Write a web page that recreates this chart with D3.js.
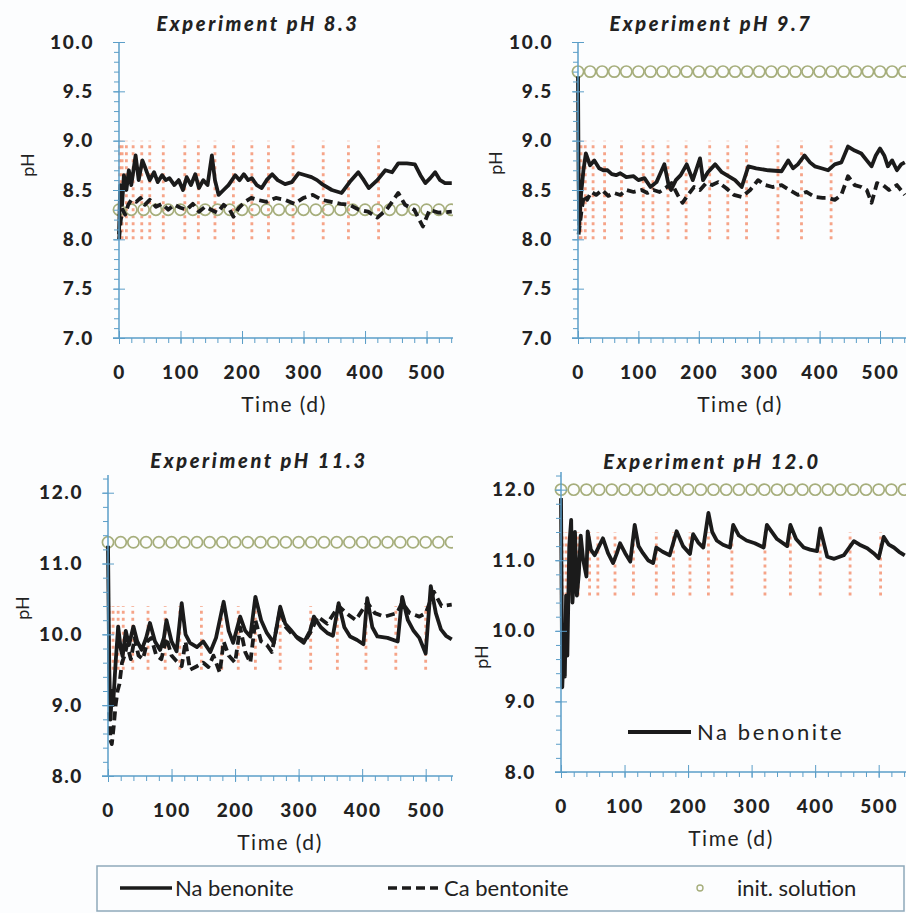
<!DOCTYPE html>
<html>
<head>
<meta charset="utf-8">
<script src="https://cdnjs.cloudflare.com/ajax/libs/d3/7.8.5/d3.min.js"></script>
<style>
body { margin: 0; background: #fcfdfe; }
text { font-family: Lato, "Open Sans", sans-serif; fill: #222; }
</style>
</head>
<body>
<script>
// ---- data ----
var titles = ["Experiment pH 8.3", "Experiment pH 9.7", "Experiment pH 11.3", "Experiment pH 12.0"];
var initPH = [8.3, 9.7, 11.3, 12.0];
var initDays = [0, 20, 40, 60, 80, 100, 120, 140, 160, 180, 200, 220, 240, 260, 280, 300, 320, 340, 360, 380, 400, 420, 440, 460, 480, 500, 520, 540];
var xTicks = [0, 100, 200, 300, 400, 500];
var yTicksLow = [7.0, 7.5, 8.0, 8.5, 9.0, 9.5, 10.0];
var yTicksHigh = [8.0, 9.0, 10.0, 11.0, 12.0];

// sampling times (red dotted columns) and their pH span
var samp1 = [1, 5, 12, 23, 37, 50, 72, 107, 129, 156, 186, 216, 243, 283, 332, 373, 422];
var samp2 = [1, 5, 12, 25, 44, 72, 108, 124, 149, 179, 218, 248, 279, 331, 370, 419];
var samp3 = [2, 8, 16, 24, 39, 63, 90, 113, 147, 179, 205, 232, 271, 319, 361, 406, 453, 500];
var samp4 = [2, 8, 16, 27, 45, 58, 85, 114, 150, 177, 203, 232, 269, 321, 361, 408, 455, 503];
var sampSpan = [[8.0, 9.0], [8.0, 9.0], [9.5, 10.4], [10.5, 11.4]];

// pH 8.3
var na1Days = [0, 2, 5, 8, 12, 16, 20, 27, 32, 38, 43, 50, 57, 63, 70, 76, 82, 90, 97, 104, 110, 117, 124, 130, 137, 144, 151, 156, 162, 170, 178, 189, 196, 203, 210, 216, 224, 232, 240, 249, 258, 270, 281, 292, 303, 313, 322, 330, 346, 362, 375, 389, 398, 406, 420, 433, 444, 454, 468, 481, 490, 498, 506, 514, 522, 530, 541];
var na1PH = [8.05, 8.55, 8.35, 8.65, 8.5, 8.7, 8.55, 8.85, 8.6, 8.8, 8.72, 8.6, 8.68, 8.58, 8.65, 8.6, 8.62, 8.55, 8.6, 8.5, 8.63, 8.55, 8.66, 8.52, 8.6, 8.55, 8.85, 8.6, 8.45, 8.5, 8.55, 8.65, 8.6, 8.66, 8.6, 8.62, 8.55, 8.52, 8.6, 8.66, 8.6, 8.56, 8.58, 8.67, 8.65, 8.63, 8.6, 8.56, 8.5, 8.47, 8.58, 8.68, 8.6, 8.52, 8.6, 8.7, 8.68, 8.77, 8.77, 8.76, 8.65, 8.57, 8.62, 8.68, 8.6, 8.57, 8.57];
var ca1Days = [0, 3, 6, 10, 15, 20, 28, 35, 42, 50, 60, 70, 80, 90, 100, 110, 120, 130, 140, 150, 160, 170, 180, 186, 195, 205, 215, 225, 240, 255, 270, 285, 300, 315, 330, 345, 360, 375, 390, 405, 420, 435, 454, 465, 480, 494, 505, 520, 541];
var ca1PH = [8.0, 8.2, 8.3, 8.25, 8.35, 8.4, 8.38, 8.42, 8.35, 8.4, 8.33, 8.36, 8.3, 8.35, 8.32, 8.3, 8.36, 8.28, 8.33, 8.3, 8.27, 8.35, 8.3, 8.23, 8.32, 8.38, 8.42, 8.4, 8.38, 8.42, 8.4, 8.36, 8.42, 8.45, 8.4, 8.38, 8.36, 8.35, 8.3, 8.28, 8.22, 8.3, 8.47, 8.35, 8.3, 8.13, 8.3, 8.27, 8.28];

// pH 9.7
var na2Days = [0, 1, 2, 5, 9, 13, 20, 27, 35, 42, 49, 56, 63, 70, 80, 92, 100, 110, 120, 130, 143, 150, 154, 162, 170, 180, 190, 202, 207, 215, 227, 238, 249, 260, 271, 282, 295, 315, 337, 348, 356, 364, 375, 384, 392, 403, 414, 425, 436, 447, 458, 469, 478, 486, 493, 500, 507, 513, 520, 528, 535, 541];
var na2PH = [9.65, 8.6, 8.15, 8.45, 8.7, 8.87, 8.75, 8.8, 8.72, 8.7, 8.7, 8.66, 8.65, 8.67, 8.63, 8.64, 8.6, 8.62, 8.53, 8.58, 8.76, 8.55, 8.5, 8.6, 8.65, 8.76, 8.6, 8.82, 8.6, 8.68, 8.76, 8.68, 8.64, 8.6, 8.53, 8.74, 8.72, 8.7, 8.69, 8.8, 8.72, 8.76, 8.85, 8.78, 8.74, 8.72, 8.7, 8.76, 8.78, 8.94, 8.9, 8.87, 8.8, 8.74, 8.85, 8.92, 8.85, 8.74, 8.8, 8.7, 8.76, 8.78];
var ca2Days = [1, 3, 6, 10, 15, 22, 30, 40, 50, 60, 70, 80, 92, 105, 115, 125, 135, 145, 155, 165, 173, 182, 192, 202, 212, 222, 232, 245, 258, 271, 285, 298, 310, 322, 337, 350, 364, 378, 392, 405, 414, 425, 436, 447, 458, 469, 478, 486, 495, 505, 515, 528, 541];
var ca2PH = [8.05, 8.15, 8.3, 8.45, 8.4, 8.48, 8.45, 8.5, 8.44, 8.47, 8.45, 8.5, 8.48, 8.5, 8.47, 8.5, 8.48, 8.52, 8.57, 8.45, 8.37, 8.45, 8.53, 8.5, 8.57, 8.55, 8.58, 8.52, 8.45, 8.43, 8.5, 8.6, 8.55, 8.53, 8.55, 8.5, 8.45, 8.48, 8.43, 8.42, 8.42, 8.4, 8.45, 8.64, 8.55, 8.53, 8.5, 8.37, 8.57, 8.55, 8.5, 8.55, 8.45];

// pH 11.3
var na3Days = [0, 2, 4, 6, 8, 12, 16, 20, 23, 28, 33, 40, 46, 53, 60, 66, 74, 82, 88, 92, 100, 108, 116, 122, 129, 140, 150, 161, 170, 182, 190, 197, 208, 216, 224, 232, 241, 250, 261, 271, 279, 287, 298, 308, 318, 324, 335, 345, 354, 363, 372, 381, 392, 402, 408, 416, 424, 440, 456, 463, 472, 481, 490, 500, 508, 516, 524, 532, 541];
var na3PH = [11.25, 9.5, 8.8, 9.2, 9.0, 9.6, 10.11, 9.8, 9.69, 10.05, 9.85, 10.11, 9.9, 9.78, 9.95, 10.16, 9.9, 9.78, 9.95, 10.2, 9.9, 9.76, 10.44, 10.0, 9.88, 9.82, 9.9, 9.75, 9.95, 10.46, 10.05, 9.88, 10.25, 10.05, 9.97, 10.53, 10.2, 10.02, 9.88, 10.39, 10.15, 10.07, 9.95, 9.88, 10.05, 10.25, 10.1, 10.02, 9.98, 10.44, 10.1, 9.97, 9.92, 9.86, 10.51, 10.1, 9.97, 9.95, 9.9, 10.53, 10.2, 10.05, 9.95, 9.73, 10.68, 10.3, 10.07, 9.98, 9.93];
var ca3Days = [2, 4, 6, 9, 12, 15, 18, 22, 26, 30, 36, 42, 48, 55, 62, 68, 76, 84, 92, 100, 108, 116, 122, 129, 140, 150, 158, 166, 176, 182, 190, 200, 208, 216, 224, 232, 241, 250, 258, 271, 280, 290, 300, 310, 320, 330, 345, 363, 375, 390, 408, 420, 435, 455, 463, 475, 490, 500, 513, 525, 541];
var ca3PH = [8.9, 8.5, 8.45, 8.7, 9.0, 9.2, 9.3, 9.6, 9.7, 9.85, 9.65, 9.95, 9.7, 9.65, 9.9, 9.95, 9.7, 9.65, 9.95, 9.7, 9.62, 9.55, 9.9, 9.5, 9.55, 9.6, 9.54, 9.7, 9.46, 9.9, 9.7, 9.6, 10.1, 9.75, 9.6, 10.2, 9.9, 9.85, 9.75, 10.35, 10.1, 10.0, 9.95, 9.9, 10.05, 10.25, 10.15, 10.4, 10.3, 10.2, 10.45, 10.3, 10.25, 10.3, 10.45, 10.3, 10.25, 10.3, 10.6, 10.4, 10.42];

// pH 12.0 (Na bentonite only)
var na4Days = [0, 1, 2, 4, 6, 8, 10, 13, 16, 18, 20, 22, 25, 28, 31, 35, 40, 42, 47, 53, 60, 66, 74, 82, 88, 93, 101, 109, 116, 122, 129, 137, 145, 150, 160, 171, 182, 192, 203, 208, 216, 224, 232, 238, 245, 255, 266, 271, 280, 292, 305, 319, 324, 340, 356, 361, 370, 382, 392, 403, 408, 419, 430, 445, 461, 470, 482, 492, 500, 508, 516, 524, 532, 541];
var na4PH = [11.88, 10.5, 9.2, 9.7, 9.35, 10.5, 9.65, 11.2, 11.57, 10.4, 10.7, 11.4, 10.5, 10.8, 11.35, 11.0, 10.77, 11.41, 11.15, 11.07, 11.2, 11.31, 11.1, 10.96, 11.1, 11.24, 11.1, 10.98, 11.5, 11.2, 11.1, 11.0, 10.96, 11.18, 11.12, 11.07, 11.41, 11.2, 11.09, 11.37, 11.25, 11.18, 11.67, 11.4, 11.28, 11.22, 11.18, 11.5, 11.35, 11.28, 11.24, 11.18, 11.5, 11.3, 11.2, 11.5, 11.3, 11.18, 11.15, 11.13, 11.45, 11.05, 11.02, 11.07, 11.27, 11.22, 11.17, 11.1, 11.03, 11.33, 11.22, 11.18, 11.12, 11.07];

// ---- layout ----
var W = 906, H = 913;
var axisCol = "#5b9ec8", sampCol = "#f4825c", circCol = "#a6ae7c";
var panels = [
  {l: 119, r: 453, t: 42, b: 338, y: [7, 10], ticks: yTicksLow, minor: 0.1, tx: 258, ty: 31, phx: 28, phy: 165, timex: 284, na: [na1Days, na1PH], ca: [ca1Days, ca1PH], samp: samp1},
  {l: 578, r: 906, t: 42, b: 338, y: [7, 10], ticks: yTicksLow, minor: 0.1, tx: 711, ty: 31, phx: 496, phy: 163, timex: 740, na: [na2Days, na2PH], ca: [ca2Days, ca2PH], samp: samp2},
  {l: 108, r: 453, t: 475, b: 776, y: [8, 12.25], ticks: yTicksHigh, minor: 0.2, tx: 259, ty: 468, phx: 23, phy: 608, timex: 280, na: [na3Days, na3PH], ca: [ca3Days, ca3PH], samp: samp3},
  {l: 561, r: 906, t: 472, b: 772, y: [8, 12.25], ticks: yTicksHigh, minor: 0.2, tx: 712, ty: 469, phx: 482, phy: 657, timex: 731, na: [na4Days, na4PH], ca: null, samp: samp4}
];

var svg = d3.select("body").append("svg")
  .attr("width", W).attr("height", H)
  .attr("xmlns", "http://www.w3.org/2000/svg");
svg.append("rect").attr("width", W).attr("height", H).attr("fill", "#fcfdfe");

var line = d3.line();

panels.forEach(function(p, i) {
  var x = d3.scaleLinear().domain([0, 543]).range([p.l, p.r]);
  var y = d3.scaleLinear().domain(p.y).range([p.b, p.t]);
  var g = svg.append("g");

  g.append("clipPath").attr("id", "clip" + i)
    .append("rect").attr("x", p.l - 8).attr("y", p.t - 10)
    .attr("width", p.r - p.l + 8).attr("height", p.b - p.t + 12);
  var plot = g.append("g").attr("clip-path", "url(#clip" + i + ")");

  // sampling columns
  plot.selectAll("line.samp").data(p.samp).enter().append("line")
    .attr("class", "samp")
    .attr("x1", function(d) { return x(d); }).attr("x2", function(d) { return x(d); })
    .attr("y1", y(sampSpan[i][0])).attr("y2", y(sampSpan[i][1]))
    .attr("stroke", sampCol).attr("stroke-width", 2.8)
    .attr("stroke-dasharray", "3,4").attr("opacity", 0.72);

  // initial solution
  plot.selectAll("circle").data(initDays).enter().append("circle")
    .attr("cx", function(d) { return x(d); })
    .attr("cy", y(initPH[i]))
    .attr("r", 5.6)
    .attr("fill", "none").attr("stroke", circCol).attr("stroke-width", 1.7);

  // bentonite series
  if (p.ca) {
    plot.append("path")
      .attr("d", line(p.ca[0].map(function(d, k) { return [x(d), y(p.ca[1][k])]; })))
      .attr("fill", "none").attr("stroke", "#1b1b1b").attr("stroke-width", 3.8)
      .attr("stroke-dasharray", "9,5").attr("stroke-linejoin", "round");
  }
  plot.append("path")
    .attr("d", line(p.na[0].map(function(d, k) { return [x(d), y(p.na[1][k])]; })))
    .attr("fill", "none").attr("stroke", "#1b1b1b").attr("stroke-width", 3.8)
    .attr("stroke-linejoin", "round");

  // y axis
  var minorY = d3.range(p.y[0], p.y[1] + 1e-6, p.minor);
  g.append("g").attr("transform", "translate(" + p.l + ",0)")
    .call(d3.axisLeft(y).tickValues(minorY).tickSize(5).tickFormat(""))
    .call(function(a) { a.select(".domain").remove(); a.selectAll("line").attr("stroke", axisCol); });
  var ya = g.append("g").attr("transform", "translate(" + p.l + ",0)")
    .call(d3.axisLeft(y).tickValues(p.ticks).tickSize(6).tickPadding(19).tickFormat(d3.format(".1f")));
  ya.select(".domain").remove();
  ya.selectAll("line").attr("x2", 6).attr("x1", -6).attr("stroke", axisCol);
  ya.selectAll("text").attr("font-family", "Lato, sans-serif").attr("font-size", 19)
    .attr("font-weight", "900").attr("fill", "#222").style("letter-spacing", "1.6px");
  g.append("line").attr("x1", p.l).attr("x2", p.l).attr("y1", p.t).attr("y2", p.b)
    .attr("stroke", axisCol).attr("stroke-width", 1.5);

  // x axis
  g.append("g").attr("transform", "translate(0," + p.b + ")")
    .call(d3.axisBottom(x).tickValues(d3.range(0, 541, 20)).tickSize(5).tickFormat(""))
    .call(function(a) { a.select(".domain").remove(); a.selectAll("line").attr("stroke", axisCol); });
  var xa = g.append("g").attr("transform", "translate(0," + p.b + ")")
    .call(d3.axisBottom(x).tickValues(xTicks).tickSize(6).tickPadding(22));
  xa.select(".domain").remove();
  xa.selectAll("line").attr("y1", -7).attr("y2", 6).attr("stroke", axisCol);
  xa.selectAll("text").attr("font-family", "Lato, sans-serif").attr("font-size", 19)
    .attr("font-weight", "900").attr("fill", "#222").style("letter-spacing", "1.6px");
  g.append("line").attr("x1", p.l - 6).attr("x2", p.r).attr("y1", p.b).attr("y2", p.b)
    .attr("stroke", axisCol).attr("stroke-width", 1.5);

  // labels
  g.append("text").attr("x", p.tx).attr("y", p.ty).attr("text-anchor", "middle")
    .attr("font-size", 20).attr("font-weight", "900").attr("font-style", "italic")
    .style("letter-spacing", "2.6px").text(titles[i]);
  g.append("text").attr("transform", "translate(" + (p.phx + 6) + "," + p.phy + ") rotate(-90)")
    .attr("text-anchor", "middle").attr("font-size", 18).text("pH");
  g.append("text").attr("x", p.timex).attr("y", p.b + 74).attr("text-anchor", "middle")
    .attr("font-size", 21).style("letter-spacing", "1.5px").text("Time (d)");
});

// legend inside the pH 12.0 panel
svg.append("line").attr("x1", 628).attr("x2", 691).attr("y1", 732).attr("y2", 732)
  .attr("stroke", "#1b1b1b").attr("stroke-width", 4);
svg.append("text").attr("x", 697).attr("y", 740).attr("font-size", 22)
  .style("letter-spacing", "2.6px").text("Na benonite");

// bottom legend
svg.append("rect").attr("x", 97).attr("y", 866).attr("width", 807).attr("height", 45)
  .attr("fill", "#fcfdfe").attr("stroke", "#8fa9ba").attr("stroke-width", 1.5);
svg.append("line").attr("x1", 120).attr("x2", 172).attr("y1", 888).attr("y2", 888)
  .attr("stroke", "#1b1b1b").attr("stroke-width", 3.5);
svg.append("text").attr("x", 175).attr("y", 896).attr("font-size", 22).text("Na benonite");
svg.append("line").attr("x1", 388).attr("x2", 438).attr("y1", 888).attr("y2", 888)
  .attr("stroke", "#1b1b1b").attr("stroke-width", 3.5).attr("stroke-dasharray", "9,5");
svg.append("text").attr("x", 444).attr("y", 896).attr("font-size", 22).text("Ca bentonite");
svg.append("circle").attr("cx", 700).attr("cy", 888).attr("r", 3)
  .attr("fill", "none").attr("stroke", circCol).attr("stroke-width", 1.4);
svg.append("text").attr("x", 737).attr("y", 896).attr("font-size", 22).text("init. solution");
</script>
</body>
</html>
